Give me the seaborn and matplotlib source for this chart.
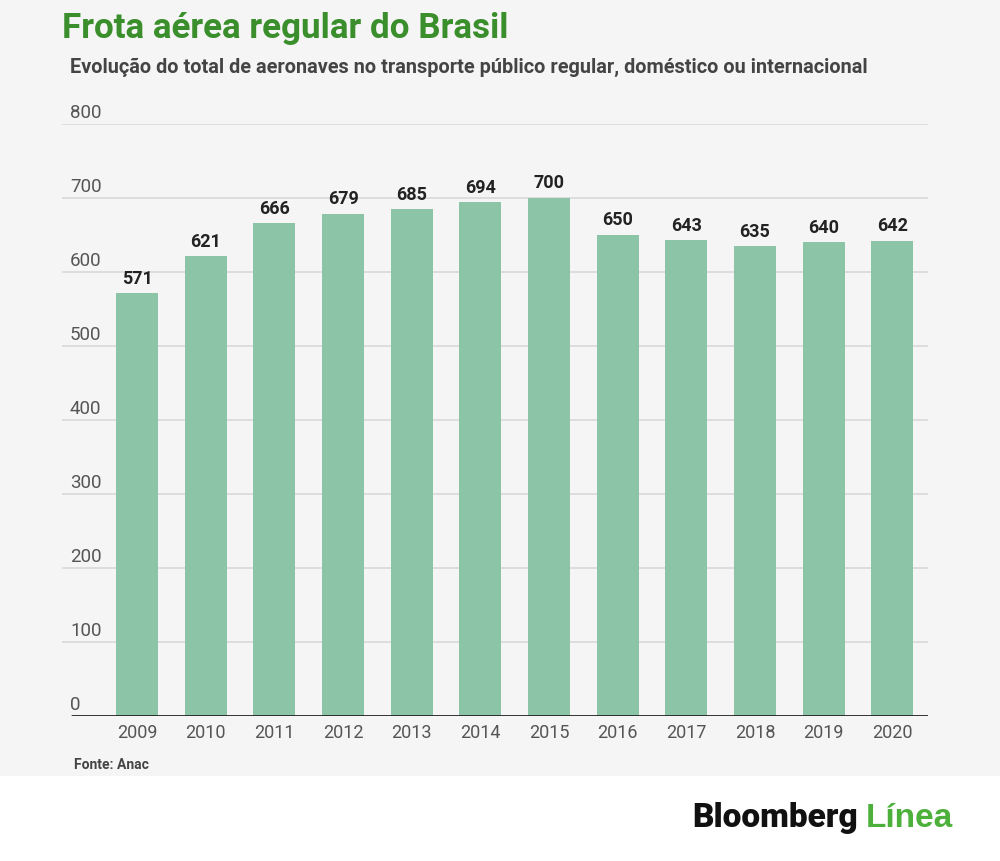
import matplotlib
matplotlib.use("Agg")
import matplotlib.pyplot as plt
import matplotlib.transforms as mtransforms
import seaborn as sns
import pandas as pd

years = ["2009", "2010", "2011", "2012", "2013", "2014", "2015", "2016", "2017", "2018", "2019", "2020"]
fleet = [571, 621, 666, 679, 685, 694, 700, 650, 643, 635, 640, 642]
y_ticks = [0, 100, 200, 300, 400, 500, 600, 700, 800]

title = "Frota aérea regular do Brasil"
subtitle = "Evolução do total de aeronaves no transporte público regular, doméstico ou internacional"
source = "Fonte: Anac"

BG = "#f5f5f5"
BAR = "#8cc4a7"
GREEN = "#3a8f2c"
GRID = "#d9d9d9"
TXT = "#555555"

sns.set_theme(style="white")
plt.rcParams["font.family"] = ["Roboto", "DejaVu Sans"]

W, H = 1000, 861
fig = plt.figure(figsize=(W / 100, H / 100), dpi=100)
fig.patch.set_facecolor("white")

# grey panel
fig.add_artist(plt.Rectangle((0, 1 - 776 / H), 1, 776 / H, transform=fig.transFigure,
                             facecolor=BG, edgecolor="none", zorder=0))

left, right = 62, 928
top, bottom = 124, 716
ax = fig.add_axes([left / W, 1 - bottom / H, (right - left) / W, (bottom - top) / H])
ax.set_facecolor(BG)
ax.patch.set_alpha(0)

df = pd.DataFrame({"year": years, "fleet": fleet})
sns.barplot(data=df, x="year", y="fleet", color=BAR, saturation=1, width=0.61, ax=ax,
            zorder=3, linewidth=0, edgecolor="none")

ax.set_ylim(0, 800)
ax.set_xlim(-1.093, 11.52)
for s in ax.spines.values():
    s.set_visible(False)
ax.set_xlabel("")
ax.set_ylabel("")
ax.set_yticks([])
ax.tick_params(axis="x", length=0, pad=6, labelsize=13, labelcolor=TXT)

for v in y_ticks[1:]:
    ax.axhline(v, color=GRID, lw=1.2, zorder=1)
ax.axhline(0, xmin=10 / (right - left), xmax=1, color="#222222", lw=2, zorder=4)

offset = mtransforms.ScaledTranslation(8 / 100, 6 / 100, fig.dpi_scale_trans)
trans = mtransforms.blended_transform_factory(ax.transAxes, ax.transData) + offset
for v in y_ticks:
    ax.text(0, v, str(v), transform=trans, ha="left", va="baseline", fontsize=13.5, color=TXT)

ax.bar_label(ax.containers[0], labels=[str(v) for v in fleet], padding=4,
             fontsize=13, fontweight="bold", color="#222222")

fig.text(62 / W, 1 - 38 / H, title, fontsize=25.2, fontweight="bold", color=GREEN, ha="left", va="baseline")
fig.text(70 / W, 1 - 73 / H, subtitle, fontsize=14.3, fontweight="bold", color="#444444", ha="left", va="baseline")
fig.text(74 / W, 1 - 769 / H, source, fontsize=10, fontweight="bold", color="#444444", ha="left", va="baseline")

fig.text(692 / W, 1 - 827 / H, "Bloomberg", fontsize=24, fontweight="black", color="#111111",
         ha="left", va="baseline")
fig.text(953 / W, 1 - 827 / H, "Línea", fontsize=24, fontweight="bold", color="#4cb03a",
         ha="right", va="baseline", family=["Liberation Sans", "DejaVu Sans"])

fig.savefig("out.png", dpi=100, facecolor=fig.get_facecolor())
